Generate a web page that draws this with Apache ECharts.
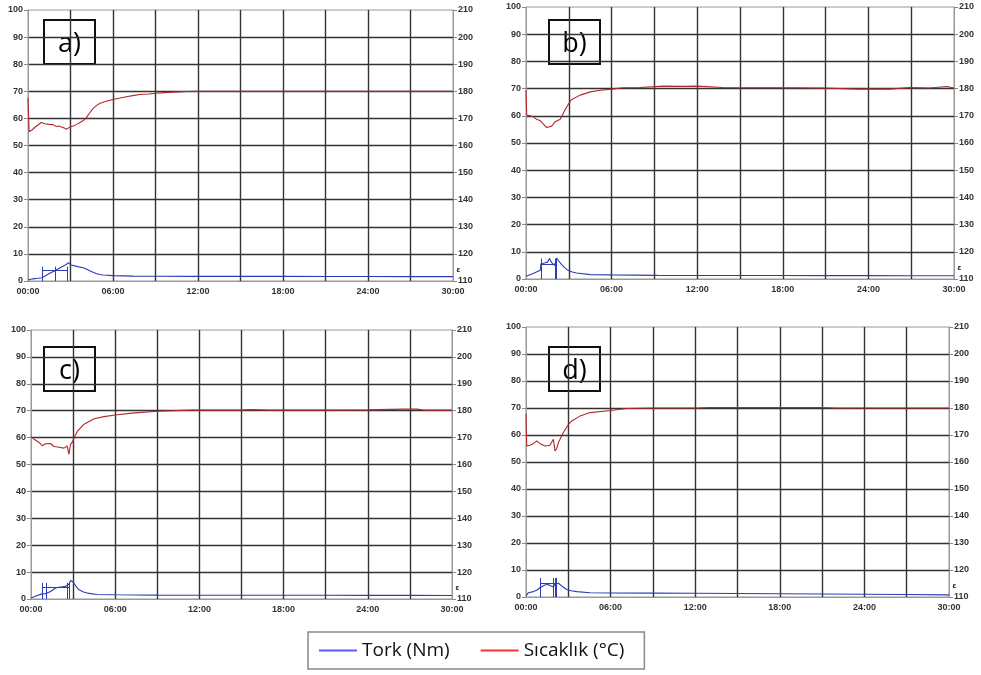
<!DOCTYPE html>
<html>
<head>
<meta charset="utf-8">
<script src="https://cdn.jsdelivr.net/npm/echarts@6/dist/echarts.min.js"></script>
<style>html,body{margin:0;padding:0;background:#fff;}#c{width:981px;height:675px;}</style>
</head>
<body>
<div id="c"></div>
<script>
// time in minutes (mm:ss axis), torque in Nm (left axis), temperature in °C (right axis)
const xTicks = [0, 3, 6, 9, 12, 15, 18, 21, 24, 27, 30];
const panelLabels = ['a)', 'b)', 'c)', 'd)'];

const aTorque = [[0,0.4],[0.35,0.8],[0.7,1.0],[1.0,1.2],[1.1,1.8],[1.5,2.8],[1.9,3.8],[2.3,5.0],[2.7,6.1],[2.87,6.8],[3.0,6.0],[3.06,5.7],[3.5,5.3],[3.9,4.9],[4.15,4.3],[4.35,3.8],[4.6,3.2],[4.8,2.8],[5.05,2.4],[5.3,2.2],[6,2.0],[7.4,1.8],[9,1.75],[12,1.7],[15,1.7],[18,1.7],[21,1.65],[24,1.65],[27,1.6],[30,1.6]];
const aTemp = [[0,177.4],[0.08,165.1],[0.3,165.8],[0.6,167.2],[0.94,168.5],[1.2,168.0],[1.5,167.8],[1.76,167.7],[2.0,167.0],[2.2,167.2],[2.35,166.8],[2.55,166.5],[2.7,166.0],[2.8,165.8],[2.9,166.6],[3.06,167.0],[3.25,167.3],[3.4,167.7],[3.65,168.4],[3.9,169.2],[4.1,170.2],[4.35,172.0],[4.6,173.7],[4.85,174.8],[5.06,175.5],[5.5,176.3],[6.0,177.0],[6.5,177.5],[6.94,178.0],[7.4,178.4],[7.9,178.8],[8.5,179.0],[9.06,179.3],[9.6,179.5],[10.2,179.7],[10.7,179.8],[11.2,179.9],[12,180.0],[16,180.0],[20,180.0],[24,180.0],[28,180.0],[30,180.0]];
const aMarks = [1.0, 1.95, 2.8];

const bTorque = [[0,1.0],[0.5,2.0],[1.0,3.2],[1.05,5.6],[1.3,5.9],[1.5,6.2],[1.65,7.5],[1.8,6.0],[2.0,5.0],[2.15,7.7],[2.3,6.6],[2.5,5.3],[2.75,4.0],[2.97,3.1],[3.25,2.6],[3.55,2.2],[4.5,1.6],[6,1.5],[9.2,1.35],[12,1.3],[15,1.3],[18,1.3],[21,1.25],[24,1.25],[27,1.2],[30,1.2]];
const bTemp = [[0,179.4],[0.05,170.3],[0.5,169.7],[0.75,168.7],[1.0,168.2],[1.2,167.0],[1.45,165.7],[1.57,165.0],[1.8,166.2],[2.03,167.8],[2.15,167.2],[2.4,168.7],[2.73,172.1],[3.0,174.5],[3.2,176.0],[3.8,177.6],[4.5,178.8],[5.2,179.4],[6.0,179.8],[6.8,180.3],[8,180.4],[9.6,180.9],[11,180.8],[12,180.9],[13.8,180.4],[16.2,180.3],[18.5,180.3],[20.8,180.2],[23.2,179.8],[25.5,179.8],[26.9,180.4],[28.3,180.2],[29.5,180.8],[30,180.2]];
const bMarks = [1.05, 2.05, 2.15];

const cTorque = [[0,0.4],[0.4,1.2],[0.8,1.9],[1.03,2.0],[1.4,2.8],[1.75,4.1],[2.0,4.4],[2.22,4.5],[2.46,4.7],[2.58,4.1],[2.7,5.5],[2.82,6.9],[2.9,7.0],[3.0,6.3],[3.2,4.8],[3.4,3.5],[3.7,2.7],[4.0,2.2],[4.7,1.7],[6,1.6],[9,1.45],[12,1.4],[15,1.4],[18,1.4],[21,1.4],[24,1.35],[27,1.35],[30,1.3]];
const cTemp = [[0,170.4],[0.2,169.5],[0.55,168.3],[0.8,167.0],[1.03,167.7],[1.4,167.8],[1.63,166.7],[2.0,166.4],[2.35,166.1],[2.58,166.9],[2.7,163.8],[2.82,167.5],[2.94,168.3],[3.1,170.2],[3.3,172.3],[3.78,175.0],[4.5,177.0],[5.2,177.8],[6,178.4],[7.37,179.2],[9.04,179.8],[11.4,180.2],[15,180.2],[15.6,180.4],[17,180.2],[21,180.2],[24,180.3],[26.5,180.6],[27.5,180.6],[28,180.2],[30,180.2]];
const cMarks = [0.8, 1.08, 2.6, 2.72];

const dTorque = [[0,0.4],[0.17,1.6],[0.52,2.0],[0.76,2.5],[1.0,3.5],[1.47,4.7],[1.7,4.3],[1.94,3.7],[2.06,4.7],[2.3,5.1],[2.53,4.1],[2.88,2.8],[3.2,2.3],[3.6,2.0],[4.54,1.6],[6,1.5],[9,1.45],[12,1.4],[15,1.3],[18,1.2],[21,1.1],[24,1.0],[27,0.9],[30,0.8]];
const dTemp = [[0,177.9],[0.05,165.9],[0.28,166.2],[0.52,166.8],[0.76,167.8],[1.0,166.8],[1.35,165.9],[1.7,166.2],[1.94,168.4],[2.06,164.1],[2.17,164.9],[2.3,167.2],[2.65,170.9],[3.0,173.8],[3.24,175.2],[3.83,177.0],[4.54,178.3],[6,179.1],[7.14,179.8],[9,180.0],[12,180.0],[13,180.2],[18,180.2],[21,180.2],[22,180.0],[25,180.0],[30,180.0]];
const dMarks = [1.0, 1.94, 2.06, 2.17];

const torqueSets = [aTorque, bTorque, cTorque, dTorque];
const tempSets = [aTemp, bTemp, cTemp, dTemp];
const markSets = [aMarks, bMarks, cMarks, dMarks];
const markHeights = [5.3, 7.5, 6.0, 7.0];
const endMarkY = [4.0, 4.2, 4.0, 4.0];

// layout
const grids = [
  {left: 28, top: 10, width: 425, height: 271},
  {left: 526, top: 7, width: 428, height: 272},
  {left: 31, top: 330, width: 421, height: 269},
  {left: 526, top: 327, width: 423, height: 270}
];
const boxes = [[43, 19], [548, 19], [43, 346], [548, 346]];

const RED = '#b3262a', BLUE = '#2c3cb4';
const labelFont = {fontFamily: 'Liberation Sans, Arial, sans-serif', fontSize: 9, fontWeight: 'bold', color: '#333'};

const fmt = v => (v < 10 ? '0' : '') + v + ':00';

const xAxes = [], yAxes = [], series = [], graphics = [];
grids.forEach((g, i) => {
  xAxes.push({
    type: 'value', gridIndex: i, min: 0, max: 30, interval: 3,
    axisLine: {show: true, lineStyle: {color: '#999', width: 1}},
    axisTick: {show: false},
    axisLabel: Object.assign({margin: 6, formatter: v => (v % 6 === 0 ? fmt(v) : '')}, labelFont),
    splitLine: {show: true, showMinLine: false, showMaxLine: false, lineStyle: {color: '#333', width: 1.4}}
  });
  yAxes.push({
    type: 'value', gridIndex: i, min: 0, max: 100, interval: 10, position: 'left',
    axisLine: {show: true, lineStyle: {color: '#999', width: 1}},
    axisTick: {show: true, length: 4, lineStyle: {color: '#888'}},
    axisLabel: Object.assign({margin: 5}, labelFont),
    splitLine: {show: true, showMinLine: false, showMaxLine: false, lineStyle: {color: '#333', width: 1.4}}
  });
  yAxes.push({
    type: 'value', gridIndex: i, min: 110, max: 210, interval: 10, position: 'right',
    axisLine: {show: true, lineStyle: {color: '#999', width: 1}},
    axisTick: {show: true, length: 4, lineStyle: {color: '#888'}},
    axisLabel: Object.assign({margin: 5}, labelFont),
    splitLine: {show: false}
  });
  const marks = markSets[i], h = markHeights[i];
  const mlData = marks.map(t => [{coord: [t, 0]}, {coord: [t, h]}]);
  mlData.push([{coord: [marks[0], h * 0.72]}, {coord: [marks[marks.length - 1], h * 0.72]}]);
  series.push({
    name: 'Tork (Nm)', type: 'line', xAxisIndex: i, yAxisIndex: 2 * i,
    data: torqueSets[i], showSymbol: false, smooth: false,
    lineStyle: {color: BLUE, width: 1.1}, itemStyle: {color: '#5b5bff'},
    markLine: {silent: true, symbol: 'none', label: {show: false},
      lineStyle: {color: BLUE, width: 1, type: 'solid'}, data: mlData},
    markPoint: {silent: true, symbol: 'circle', symbolSize: 1,
      itemStyle: {color: 'rgba(0,0,0,0)'},
      label: {show: true, position: 'right', distance: 3, formatter: 'ε', fontSize: 8, fontWeight: 'bold', color: '#222'},
      data: [{coord: [30, endMarkY[i]]}]},
    z: 3
  });
  series.push({
    name: 'Sıcaklık (°C)', type: 'line', xAxisIndex: i, yAxisIndex: 2 * i + 1,
    data: tempSets[i], showSymbol: false, smooth: false,
    lineStyle: {color: RED, width: 1.1}, itemStyle: {color: '#ff3030'},
    z: 3
  });
  const [bx, by] = boxes[i];
  graphics.push({
    type: 'group', left: bx, top: by, z: 10,
    children: [
      {type: 'rect', shape: {x: 0, y: 0, width: 51, height: 44},
        style: {fill: '#fff', stroke: '#111', lineWidth: 2}},
      {type: 'text', x: 25.5, y: 24,
        style: {text: panelLabels[i], fill: '#000', font: '27px "Open Sans", sans-serif',
          textAlign: 'center', textVerticalAlign: 'middle'}}
    ]
  });
});

const chart = echarts.init(document.getElementById('c'), null, {renderer: 'canvas'});
chart.setOption({
  animation: false,
  backgroundColor: '#fff',
  grid: grids.map(g => Object.assign({show: true, borderColor: '#999', borderWidth: 1, backgroundColor: 'transparent'}, g)),
  xAxis: xAxes,
  yAxis: yAxes,
  series: series,
  graphic: graphics,
  legend: {
    left: 308, top: 632,
    padding: [9, 20, 9, 11],
    borderColor: '#888', borderWidth: 1.5, backgroundColor: '#fff',
    itemWidth: 38, itemHeight: 2, itemGap: 31,
    textStyle: {fontFamily: '"Open Sans", sans-serif', fontSize: 19, color: '#111'},
    data: [
      {name: 'Tork (Nm)', icon: 'rect', itemStyle: {color: '#5b5bff'}},
      {name: 'Sıcaklık (°C)', icon: 'rect', itemStyle: {color: '#ff3030'}}
    ]
  }
});
</script>
</body>
</html>
